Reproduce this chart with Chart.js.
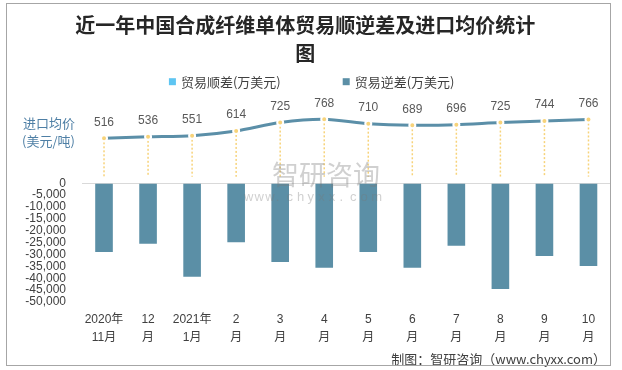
<!DOCTYPE html>
<html>
<head>
<meta charset="utf-8">
<script src="https://cdn.jsdelivr.net/npm/chart.js@4.4.0/dist/chart.umd.min.js"></script>
<style>
  html, body { margin: 0; padding: 0; background: #fff; }
</style>
</head>
<body>
<canvas id="chart" width="622" height="370"></canvas>
<script>
// data
const months = [
  ['2020年', '11月'], ['12', '月'], ['2021年', '1月'], ['2', '月'], ['3', '月'], ['4', '月'],
  ['5', '月'], ['6', '月'], ['7', '月'], ['8', '月'], ['9', '月'], ['10', '月']
];
const surplus = [null, null, null, null, null, null, null, null, null, null, null, null];
const deficit = [-28900, -25500, -39400, -24800, -33100, -35600, -28900, -35600, -26300, -44500, -30600, -34800];
const importPrice = [516, 536, 551, 614, 725, 768, 710, 689, 696, 725, 744, 766];
const deficitTicks = [0, -5000, -10000, -15000, -20000, -25000, -30000, -35000, -40000, -45000, -50000];

const FONT = "'Liberation Sans', 'Noto Sans CJK SC', sans-serif";
const CJK = "'Noto Sans CJK SC', 'Liberation Sans', sans-serif";

const extras = {
  id: 'extras',
  beforeDatasetsDraw(chart) {
    // dotted drop lines under the price points
    const ctx = chart.ctx;
    const meta = chart.getDatasetMeta(2);
    const stop = chart.scales.y.getPixelForValue(2800);
    ctx.save();
    ctx.strokeStyle = '#f7d37a';
    ctx.lineWidth = 1.5;
    ctx.setLineDash([2, 2]);
    meta.data.forEach(p => {
      ctx.beginPath();
      ctx.moveTo(p.x, p.y);
      ctx.lineTo(p.x, stop);
      ctx.stroke();
    });
    ctx.restore();
  },
  afterDatasetsDraw(chart) {
    const ctx = chart.ctx;
    const meta = chart.getDatasetMeta(2);
    ctx.save();
    ctx.font = '12px ' + FONT;
    ctx.fillStyle = '#595959';
    ctx.textAlign = 'center';
    ctx.textBaseline = 'middle';
    meta.data.forEach((p, i) => ctx.fillText(importPrice[i], p.x, p.y - 16));
    ctx.restore();
  },
  afterDraw(chart) {
    const ctx = chart.ctx;
    ctx.save();

    // legend (bar series only)
    const items = chart.data.datasets.filter(d => d.type === 'bar');
    ctx.font = '13px ' + CJK;
    ctx.textBaseline = 'middle';
    ctx.textAlign = 'left';
    const box = 7, gap = 5, itemGap = 62;
    const widths = items.map(d => box + gap + ctx.measureText(d.label).width);
    let x = 311.7 - (widths.reduce((a, b) => a + b, 0) + itemGap * (items.length - 1)) / 2;
    const ly = 81.7;
    items.forEach((d, i) => {
      ctx.fillStyle = d.backgroundColor;
      ctx.fillRect(x, ly - box / 2, box, box);
      ctx.fillStyle = '#404040';
      ctx.fillText(d.label, x + box + gap, ly);
      x += widths[i] + itemGap;
    });

    // price axis title
    ctx.font = '13px ' + CJK;
    ctx.fillStyle = '#4e7fa5';
    ctx.fillText('进口均价', 23, 122.7);
    ctx.fillText('(美元/吨)', 22, 140.7);

    // watermark
    ctx.fillStyle = 'rgba(120,120,120,0.35)';
    ctx.font = '27px ' + CJK;
    ctx.fillText('智研咨询', 272, 175);
    ctx.font = '13px ' + FONT;
    'www.chyxx.com'.split('').forEach((ch, i) => ctx.fillText(ch, 244 + i * 10.6, 197));

    // footer
    ctx.font = '13px ' + CJK;
    ctx.fillStyle = '#404040';
    ctx.textAlign = 'right';
    ctx.fillText('制图：智研咨询（www.chyxx.com）', 606, 358.7);

    // frame
    ctx.strokeStyle = '#a6a6a6';
    ctx.lineWidth = 1;
    ctx.strokeRect(6.5, 3.5, 604, 362);
    ctx.restore();
  }
};

new Chart(document.getElementById('chart'), {
  data: {
    labels: months,
    datasets: [
      {
        type: 'bar',
        label: '贸易顺差(万美元)',
        data: surplus,
        backgroundColor: '#5ec5f2',
        yAxisID: 'y',
        order: 2
      },
      {
        type: 'bar',
        label: '贸易逆差(万美元)',
        data: deficit,
        backgroundColor: '#5b8fa6',
        yAxisID: 'y',
        order: 1
      },
      {
        type: 'line',
        label: '进口均价(美元/吨)',
        data: importPrice,
        borderColor: '#5b8fa8',
        borderWidth: 3,
        tension: 0.25,
        pointRadius: 3,
        pointBorderWidth: 2,
        pointBackgroundColor: '#f7d37a',
        pointBorderColor: '#ffffff',
        yAxisID: 'y1',
        order: 0
      }
    ]
  },
  options: {
    responsive: false,
    animation: false,
    devicePixelRatio: 1,
    layout: { padding: { left: 0, right: 11.5, top: 0, bottom: 14 } },
    datasets: { bar: { grouped: false, categoryPercentage: 1, barPercentage: 0.4 } },
    plugins: {
      legend: { display: false },
      tooltip: { enabled: false },
      title: {
        display: true,
        text: ['近一年中国合成纤维单体贸易顺逆差及进口均价统计', '图'],
        color: '#262626',
        font: { size: 20, weight: 'bold', family: CJK, lineHeight: 1.4 },
        padding: { top: 11, bottom: 33 }
      }
    },
    scales: {
      x: {
        grid: { display: false, drawTicks: false },
        border: { display: false },
        ticks: {
          padding: 9,
          color: '#404040',
          maxRotation: 0,
          autoSkip: false,
          font: { size: 12, family: FONT, lineHeight: 1.5 }
        }
      },
      y: {
        min: -50000,
        max: 35090,
        afterFit(s) { s.width = 82; },
        afterBuildTicks(s) { s.ticks = deficitTicks.map(v => ({ value: v })); },
        grid: {
          drawTicks: false,
          color: c => (c.tick && c.tick.value === 0 ? '#d9d9d9' : 'rgba(0,0,0,0)')
        },
        border: { display: false },
        ticks: {
          autoSkip: false,
          padding: 16,
          color: '#404040',
          font: { size: 12, family: FONT },
          callback: v => v.toLocaleString('en-US')
        }
      },
      y1: {
        display: false,
        position: 'right',
        min: -1655,
        max: 1024
      }
    }
  },
  plugins: [extras]
});
</script>
</body>
</html>
